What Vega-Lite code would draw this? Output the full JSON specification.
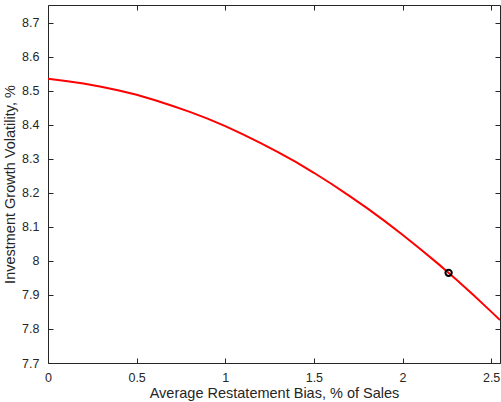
{
  "$schema": "https://vega.github.io/schema/vega-lite/v6.json",
  "width": 452,
  "height": 358,
  "autosize": {"type": "none"},
  "padding": {"left": 48, "top": 5, "right": 1, "bottom": 39},
  "config": {
    "view": {"stroke": null},
    "font": "Liberation Sans",
    "axis": {
      "grid": false,
      "domainColor": "#262626",
      "tickColor": "#262626",
      "labelColor": "#262626",
      "titleColor": "#262626",
      "labelFont": "Liberation Sans",
      "titleFont": "Liberation Sans",
      "labelFontSize": 12.5,
      "titleFontSize": 14.5,
      "titleFontWeight": "normal",
      "tickSize": -5,
      "domainWidth": 1,
      "tickWidth": 1,
      "format": "~g"
    }
  },
  "datasets": {
    "curve": [
      {"bias": 0.0, "vol": 8.535},
      {"bias": 0.1, "vol": 8.529},
      {"bias": 0.2, "vol": 8.521},
      {"bias": 0.3, "vol": 8.512},
      {"bias": 0.4, "vol": 8.501},
      {"bias": 0.5, "vol": 8.488},
      {"bias": 0.6, "vol": 8.473},
      {"bias": 0.7, "vol": 8.456},
      {"bias": 0.8, "vol": 8.438},
      {"bias": 0.9, "vol": 8.418},
      {"bias": 1.0, "vol": 8.396},
      {"bias": 1.1, "vol": 8.372},
      {"bias": 1.2, "vol": 8.346},
      {"bias": 1.3, "vol": 8.319},
      {"bias": 1.4, "vol": 8.290},
      {"bias": 1.5, "vol": 8.259},
      {"bias": 1.6, "vol": 8.226},
      {"bias": 1.7, "vol": 8.191},
      {"bias": 1.8, "vol": 8.155},
      {"bias": 1.9, "vol": 8.117},
      {"bias": 2.0, "vol": 8.077},
      {"bias": 2.1, "vol": 8.035},
      {"bias": 2.2, "vol": 7.992},
      {"bias": 2.3, "vol": 7.947},
      {"bias": 2.4, "vol": 7.900},
      {"bias": 2.5, "vol": 7.851},
      {"bias": 2.55, "vol": 7.826}
    ],
    "marker": [
      {"bias": 2.26, "vol": 7.965}
    ]
  },
  "layer": [
    {
      "data": {"name": "curve"},
      "mark": {"type": "line", "color": "#ff0000", "strokeWidth": 2, "clip": true},
      "encoding": {
        "x": {
          "field": "bias", "type": "quantitative",
          "scale": {"domain": [0, 2.55], "nice": false, "zero": false},
          "axis": {"title": "Average Restatement Bias, % of Sales", "format": "~g", "values": [0, 0.5, 1, 1.5, 2, 2.5], "labelPadding": 13, "titlePadding": 3, "labelFlush": false}
        },
        "y": {
          "field": "vol", "type": "quantitative",
          "scale": {"domain": [7.7, 8.752], "nice": false, "zero": false},
          "axis": {"title": "Investment Growth Volatility, %", "format": "~g", "values": [7.7, 7.8, 7.9, 8, 8.1, 8.2, 8.3, 8.4, 8.5, 8.6, 8.7], "labelPadding": 14, "titlePadding": 4, "labelFlush": false}
        }
      }
    },
    {
      "data": {"name": "marker"},
      "mark": {"type": "point", "shape": "circle", "filled": false, "color": "#000000", "opacity": 1, "strokeWidth": 2, "size": 40},
      "encoding": {
        "x": {
          "field": "bias", "type": "quantitative",
          "scale": {"domain": [0, 2.55], "nice": false, "zero": false},
          "axis": {"orient": "top", "title": null, "labels": false, "values": [0, 0.5, 1, 1.5, 2, 2.5]}
        },
        "y": {
          "field": "vol", "type": "quantitative",
          "scale": {"domain": [7.7, 8.752], "nice": false, "zero": false},
          "axis": {"orient": "right", "title": null, "labels": false, "values": [7.7, 7.8, 7.9, 8, 8.1, 8.2, 8.3, 8.4, 8.5, 8.6, 8.7]}
        }
      }
    }
  ],
  "resolve": {"axis": {"x": "independent", "y": "independent"}}
}
